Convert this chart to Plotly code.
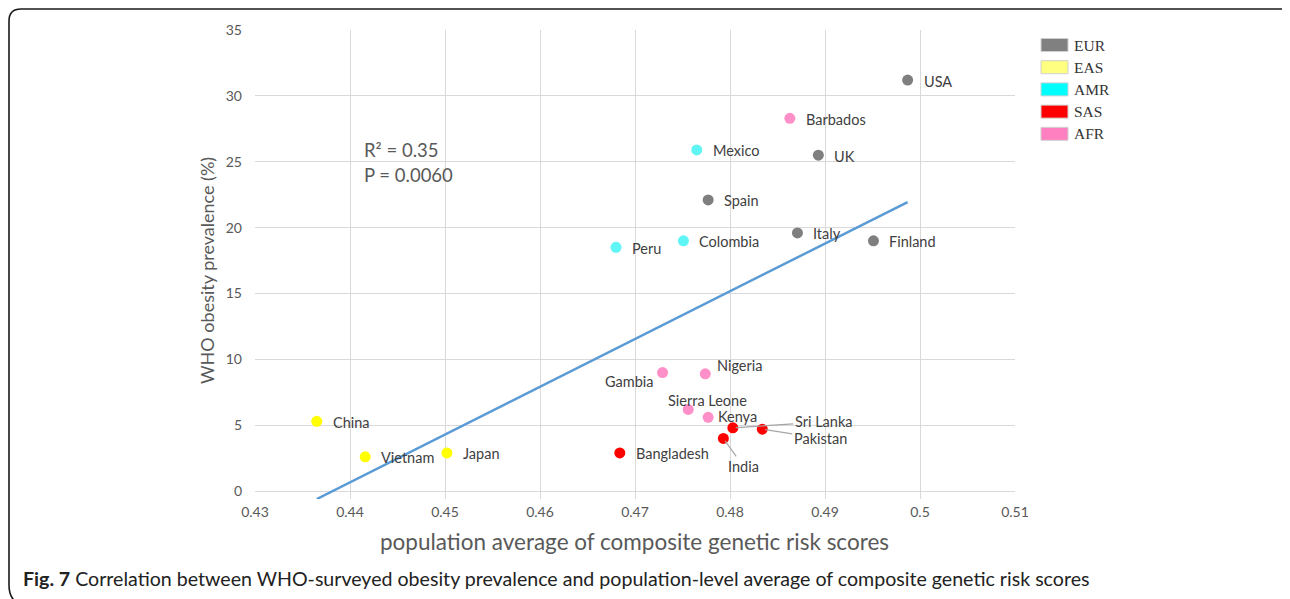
import numpy as np
import plotly.graph_objects as go

# ---------------- data ----------------
countries = ["USA", "Barbados", "Mexico", "UK", "Spain", "Italy", "Finland", "Colombia", "Peru",
             "Gambia", "Nigeria", "Sierra Leone", "Kenya", "Sri Lanka", "Pakistan", "India",
             "Bangladesh", "China", "Vietnam", "Japan"]
regions = ["EUR", "AFR", "AMR", "EUR", "EUR", "EUR", "EUR", "AMR", "AMR",
           "AFR", "AFR", "AFR", "AFR", "SAS", "SAS", "SAS",
           "SAS", "EAS", "EAS", "EAS"]
grs = [0.4987, 0.4863, 0.4765, 0.4893, 0.4777, 0.4871, 0.4951, 0.4751, 0.4680,
       0.4729, 0.4774, 0.4756, 0.4777, 0.4803, 0.4834, 0.4793,
       0.4684, 0.4365, 0.4416, 0.4502]
obesity = [31.2, 28.3, 25.9, 25.5, 22.1, 19.6, 19.0, 19.0, 18.5,
           9.0, 8.9, 6.2, 5.6, 4.8, 4.7, 4.0,
           2.9, 5.3, 2.6, 2.9]

legend_regions = ["EUR", "EAS", "AMR", "SAS", "AFR"]
legend_colors = ["#808080", "#FFFF80", "#00FFFF", "#FF0000", "#FF80C0"]
point_colors = {"EUR": "#7F7F7F", "EAS": "#FFFF00", "AMR": "#5FF5F5", "SAS": "#FF0000", "AFR": "#FF8FC8"}

x_ticks = [0.43, 0.44, 0.45, 0.46, 0.47, 0.48, 0.49, 0.50, 0.51]
x_ticktext = ["0.43", "0.44", "0.45", "0.46", "0.47", "0.48", "0.49", "0.5", "0.51"]
y_ticks = [0, 5, 10, 15, 20, 25, 30, 35]

# label placement: (mode, dx, dy (down positive), anchor)
label_pos = {
    "Gambia": ("text", -7, 9, "right"),
    "Nigeria": ("text", 10, -8, "left"),
    "Sierra Leone": ("text", 19, -9, "center"),
    "Kenya": ("text", 8, -1, "left"),
    "Sri Lanka": ("arrow", 91, -6, "center"),
    "Pakistan": ("arrow", 58, 9, "center"),
    "India": ("arrow", 20, 28, "center"),
}

# ---------------- layout geometry (reference pixel frame) ----------------
OFF = 8                      # page body margin
X0, X1 = 255, 1015           # plot area left/right (reference px)
YT, YB = 30, 498.9           # plot area top/bottom (reference px)
W, H = 1290 - OFF, 599 - OFF
ML, MT = X0 - OFF, YT - OFF
MR = W - (X1 - OFF)
MB = H - (YB - OFF)


def px(xr):
    return (xr - X0) / (X1 - X0)


def py(yr):
    return (YB - yr) / (YB - YT)


FONT = "Lato"
LBL = dict(family=FONT, size=14.5, color="#404040")

fig = go.Figure()

# trendline (least squares)
slope, intercept = np.polyfit(grs, obesity, 1)
xl = np.array([min(grs), max(grs)])
fig.add_trace(go.Scatter(x=xl, y=slope * xl + intercept, mode="lines",
                         line=dict(color="#5B9BD5", width=2.5), hoverinfo="skip", showlegend=False))

fig.add_trace(go.Scatter(
    x=grs, y=obesity, mode="markers",
    marker=dict(size=11, color=[point_colors[r] for r in regions], line=dict(width=0)),
    text=countries, showlegend=False))

annotations = []
for c, xv, yv in zip(countries, grs, obesity):
    mode, dx, dy, anc = label_pos.get(c, ("text", 14, 1, "left"))
    if mode == "text":
        annotations.append(dict(x=xv, y=yv, text=c, showarrow=False, xanchor=anc, yanchor="middle",
                                xshift=dx, yshift=-dy, font=LBL))
    else:
        annotations.append(dict(x=xv, y=yv, text=c, showarrow=True, ax=dx, ay=dy,
                                arrowhead=0, arrowwidth=1.2, arrowcolor="#A6A6A6", standoff=3,
                                font=LBL))

# R2 / P text
annotations.append(dict(xref="paper", yref="paper", x=px(362), y=py(150), xanchor="left", yanchor="middle",
                        text="R² = 0.35", showarrow=False, font=dict(family=FONT, size=18.5, color="#595959")))
annotations.append(dict(xref="paper", yref="paper", x=px(362), y=py(175), xanchor="left", yanchor="middle",
                        text="P = 0.0060", showarrow=False, font=dict(family=FONT, size=18.5, color="#595959")))

# axis titles
annotations.append(dict(xref="paper", yref="paper", x=px(634), y=py(541), xanchor="center", yanchor="middle",
                        text="population average of composite genetic risk scores", showarrow=False,
                        font=dict(family=FONT, size=22.5, color="#595959")))
annotations.append(dict(xref="paper", yref="paper", x=px(207), y=py(271), xanchor="center", yanchor="middle",
                        text="WHO obesity prevalence (%)", textangle=-90, showarrow=False,
                        font=dict(family=FONT, size=18, color="#595959")))

# caption
annotations.append(dict(xref="paper", yref="paper", x=px(21), y=py(578), xanchor="left", yanchor="middle",
                        text="<b>Fig. 7</b> Correlation between WHO-surveyed obesity prevalence and population-level average of composite genetic risk scores",
                        showarrow=False, font=dict(family=FONT, size=19.6, color="#222222")))

shapes = []
# custom legend
for i, (reg, col) in enumerate(zip(legend_regions, legend_colors)):
    yc = 45 + i * 22.2
    shapes.append(dict(type="rect", xref="paper", yref="paper",
                       x0=px(1041), x1=px(1068), y0=py(yc - 6.5), y1=py(yc + 6.5),
                       fillcolor=col, line=dict(color="#D0D0D0", width=1)))
    annotations.append(dict(xref="paper", yref="paper", x=px(1072), y=py(yc), xanchor="left", yanchor="middle",
                            text=reg, showarrow=False,
                            font=dict(family="Liberation Serif", size=15.5, color="#333333")))

# rounded frame (top and left edges visible)
r = 12
path = (f"M {px(1300)},{py(9)} L {px(9 + r)},{py(9)} Q {px(9)},{py(9)} {px(9)},{py(9 + r)} "
        f"L {px(9)},{py(585)} Q {px(9)},{py(596)} {px(15)},{py(601)}")
shapes.append(dict(type="path", xref="paper", yref="paper", path=path,
                   line=dict(color="#1a1a1a", width=1.6)))

fig.update_layout(
    width=W, height=H,
    margin=dict(l=ML, r=MR, t=MT, b=MB, pad=0),
    paper_bgcolor="white", plot_bgcolor="white",
    showlegend=False,
    annotations=annotations, shapes=shapes,
    xaxis=dict(range=[0.43, 0.51], tickvals=x_ticks, ticktext=x_ticktext,
               showgrid=True, gridcolor="#D9D9D9", gridwidth=1, zeroline=False,
               showline=False, ticks="", ticklen=0, ticklabelstandoff=3,
               tickfont=dict(family=FONT, size=14, color="#595959")),
    yaxis=dict(range=[-0.6, 35], tickvals=y_ticks,
               showgrid=True, gridcolor="#D9D9D9", gridwidth=1, zeroline=False,
               showline=False, ticks="", ticklen=0, ticklabelstandoff=12,
               tickfont=dict(family=FONT, size=14, color="#595959")),
)

fig.write_html("out.html")
